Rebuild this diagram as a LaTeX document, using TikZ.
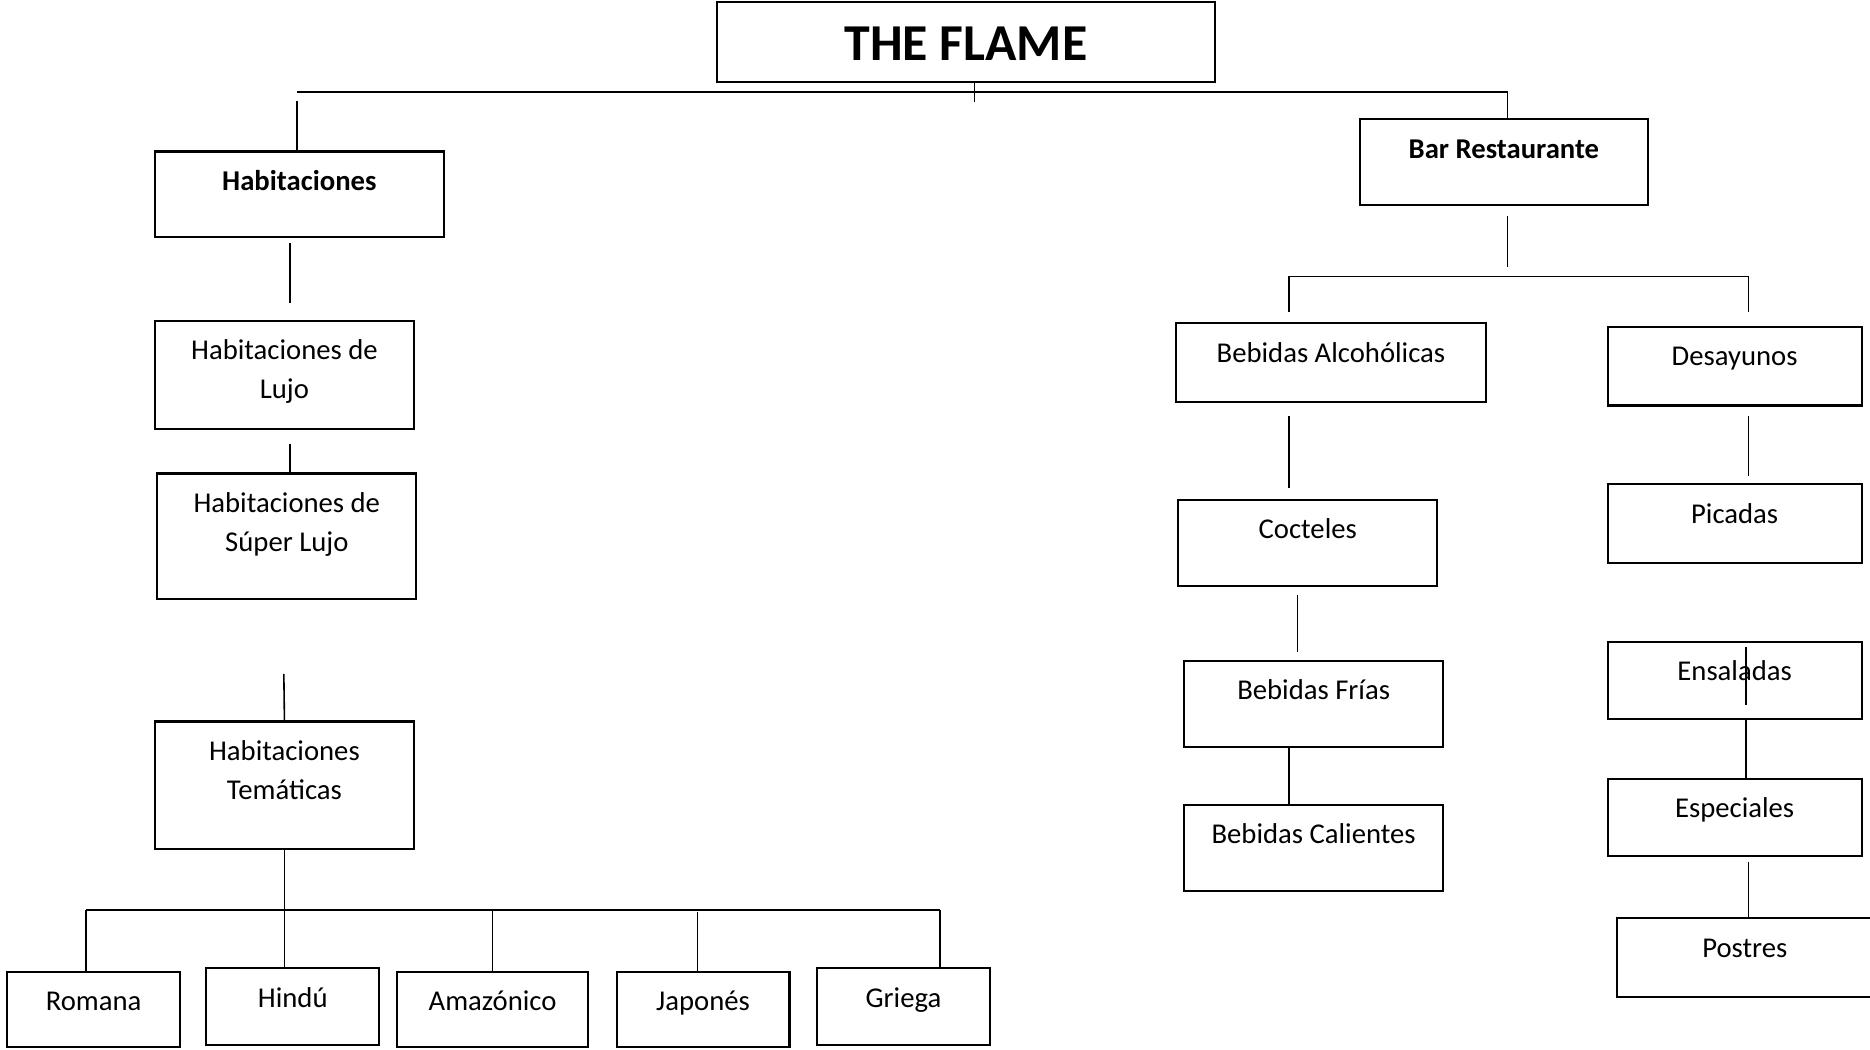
\documentclass[tikz,border=0pt]{standalone}
\usepackage{fontspec}
\setmainfont{Carlito}
\usetikzlibrary{positioning,calc,fit}

\begin{document}
\begin{tikzpicture}[
  x=0.449pt, y=-0.449pt,
  font=\fontsize{10.8}{14.6}\selectfont,
  box/.style={draw, line width=0.8pt, inner sep=0pt},
  link/.style={draw, line width=0.6pt},
  lbl/.style={anchor=north, inner sep=0pt, align=center, yshift=-4.6pt},
  txt/.style={label={[lbl]north:\strut #1}},
  head/.style={label={[lbl, font=\fontsize{10.8}{14.6}\selectfont\bfseries]north:\strut #1}}
]
\useasboundingbox (0,0) rectangle (1568,880);

% =========================================================
% TOP: title and the two main branches
% =========================================================
\node[box, fit={(601,2) (1019,69)},
      label={[anchor=base, inner sep=0pt, yshift=-22.2pt,
              font=\fontsize{19.5}{23}\selectfont\bfseries]north:THE FLAME}] (flame) {};
\node[box, fit={(130,127) (372,199)},  head={Habitaciones}]    (hab) {};
\node[box, fit={(1140,100) (1382,172)}, head={Bar Restaurante}] (bar) {};

% =========================================================
% LEFT: rooms
% =========================================================
\node[box, fit={(130,269) (347,360)}, txt={Habitaciones de\\Lujo}]       (lujo)  {};
\node[box, fit={(132,397) (349,502)}, txt={Habitaciones de\\Súper Lujo}] (super) {};
\node[box, fit={(130,605) (347,712)}, txt={Habitaciones\\Temáticas}]     (tem)   {};

% themed rooms row
\node[box, fit={(6,815) (151,878)},   txt={Romana}]    (romana) {};
\node[box, fit={(173,812) (318,876)}, txt={Hindú}]     (hindu)  {};
\node[box, fit={(333,815) (493,878)}, txt={Amazónico}] (amaz)   {};
\node[box, fit={(517,815) (662,878)}, txt={Japonés}]   (japon)  {};
\node[box, fit={(685,812) (830,876)}, txt={Griega}]    (griega) {};

% =========================================================
% RIGHT: bar / restaurant
% =========================================================
\node[box, fit={(986,271) (1246,337)},  txt={Bebidas Alcohólicas}] (bebalc)  {};
\node[box, fit={(988,419) (1205,491)},  txt={Cocteles}]            (coct)    {};
\node[box, fit={(993,554) (1210,626)},  txt={Bebidas Frías}]       (frias)   {};
\node[box, fit={(993,675) (1210,747)},  txt={Bebidas Calientes}]   (calient) {};

\node[box, fit={(1348,274) (1561,340)}, txt={Desayunos}]  (desay)   {};
\node[box, fit={(1348,406) (1561,472)}, txt={Picadas}]    (picad)   {};
\node[box, fit={(1348,538) (1561,603)}, txt={Ensaladas}]  (ensal)   {};
\node[box, fit={(1348,653) (1561,718)}, txt={Especiales}] (espec)   {};
\node[box, fit={(1356,770) (1570,836)}, txt={Postres}]    (postres) {};

% =========================================================
% CONNECTORS
% =========================================================
% main bus under the title
\coordinate (busL) at (249,77);
\coordinate (busR) at (1264,77);
\draw[link] (busL) -- (busR) -- (busR |- bar.north);
\draw[link] ($(flame.south)+(7,0)$) -- ++(0,16);
\draw[link] ($(busL)+(0,8)$) -- (busL |- hab.north);

% rooms column (lines leave small gaps, as drawn)
\draw[link] ($(hab.south)+(-8,4)$) -- ++(0,50);
\draw[link] ($(lujo.south)+(4.5,11)$) -- ($(super.north)+(2.5,0)$);
\draw[link] ($(tem.north)+(-0.5,-39)$) -- (tem.north);

% themed rooms bus
\coordinate (tbL) at (72,763);
\coordinate (tbR) at (788,763);
\draw[link] (tem.south) -- (tem.south |- hindu.north);
\draw[link] (tbL) -- (tbR);
\draw[link] (tbL) -- (tbL |- romana.north);
\draw[link] (amaz.north) -- (amaz.north |- tbL);
\draw[link] ($(japon.north)+(-4.5,0)$) -- ++(0,-49);
\draw[link] (tbR) -- (tbR |- griega.north);

% bar / restaurant fork
\coordinate (rbL) at (1081,232);
\coordinate (rbR) at (1466,232);
\draw[link] ($(bar.south)+(3,8)$) -- ++(0,43);
\draw[link] ($(rbL)+(0,30)$) -- (rbL) -- (rbR) -- ++(0,30);

% drinks column
\draw[link] ($(bebalc.south)+(-35,11)$) -- ++(0,60);
\draw[link] ($(coct.south)+(-8.5,7)$) -- ++(0,48);
\draw[link] ($(frias.south)+(-20.5,0)$) -- ($(calient.north)+(-20.5,0)$);

% food column
\draw[link] ($(desay.south)+(11.5,8)$) -- ++(0,50);
\draw[link] ($(ensal.north)+(9.5,5)$) -- ++(0,49);
\draw[link] ($(ensal.south)+(9.5,0)$) -- ($(espec.north)+(9.5,0)$);
\draw[link] ($(espec.south)+(11.5,4)$) -- ($(postres.north)+(3,0)$);

\end{tikzpicture}
\end{document}
